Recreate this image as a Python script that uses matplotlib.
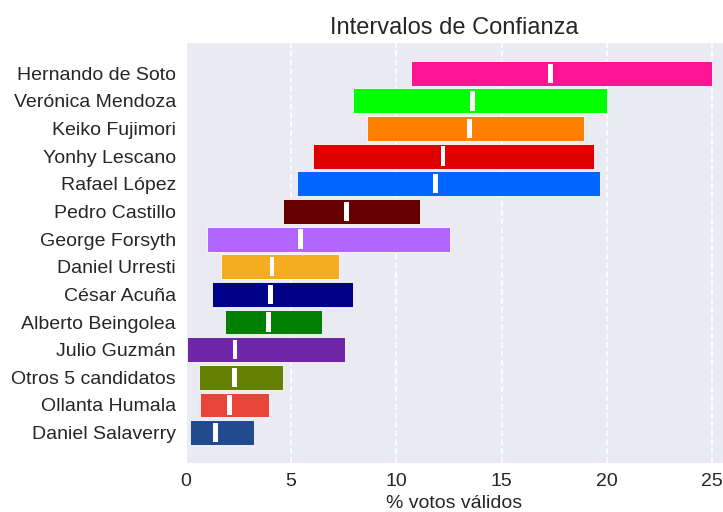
import numpy as np
import matplotlib
matplotlib.use("Agg")
import matplotlib.pyplot as plt
import seaborn as sns

sns.set_style("darkgrid")
plt.rcParams['font.family'] = ['Liberation Sans', 'DejaVu Sans']

candidatos = ["Hernando de Soto", "Verónica Mendoza", "Keiko Fujimori", "Yonhy Lescano",
              "Rafael López", "Pedro Castillo", "George Forsyth", "Daniel Urresti",
              "César Acuña", "Alberto Beingolea", "Julio Guzmán", "Otros 5 candidatos",
              "Ollanta Humala", "Daniel Salaverry"]
lim_inf = [10.70, 7.96, 8.60, 6.06, 5.27, 4.61, 1.00, 1.68, 1.23, 1.84, 0.07, 0.64, 0.69, 0.21]
lim_sup = [25.00, 20.00, 18.94, 19.37, 19.70, 11.11, 12.54, 7.27, 7.93, 6.48, 7.54, 4.62, 3.95, 3.26]
estimado = [17.33, 13.61, 13.48, 12.21, 11.86, 7.62, 5.45, 4.10, 4.01, 3.93, 2.33, 2.30, 2.09, 1.40]
colores = ["#FF1493", "#00FF00", "#FF7F00", "#E00000", "#0066FF", "#640000", "#B266FF",
           "#F5AD1F", "#000088", "#008000", "#7026A8", "#638000", "#E84437", "#224B8F"]

fig = plt.figure(figsize=(7.23, 5.12), dpi=100)
ax = fig.add_axes([0.257, 0.0957, 0.743, 0.8223])

y = np.arange(len(candidatos))[::-1]
inf = np.array(lim_inf)
sup = np.array(lim_sup)
est = np.array(estimado)

ax.barh(y, sup - inf, left=inf, height=0.9, color=colores,
        edgecolor="white", linewidth=0.6, alpha=1.0, zorder=2)
ax.barh(y, 0.22, left=est - 0.11, height=0.7, color="white", linewidth=0, zorder=3)

ax.set_yticks(y)
ax.set_yticklabels(candidatos, fontsize=14)
ax.set_xticks([0, 5, 10, 15, 20, 25])
ax.tick_params(axis='x', labelsize=14)
ax.set_xlim(0, 25.52)
ax.set_ylim(-1.1, 14.13)
ax.grid(axis='y', visible=False)
ax.grid(axis='x', linestyle='--', color='white', linewidth=1.2)
ax.set_axisbelow(True)
ax.set_xlabel("% votos válidos", fontsize=14)
ax.set_title("Intervalos de Confianza", fontsize=17)

fig.savefig("out.png", dpi=100)
